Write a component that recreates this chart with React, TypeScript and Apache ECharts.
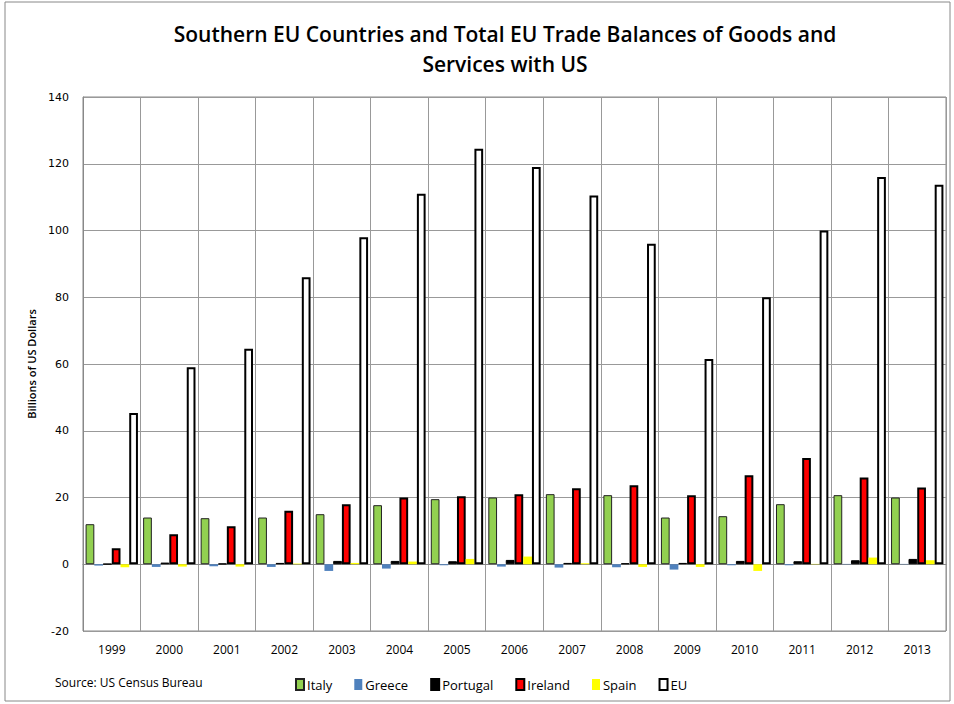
import React, { useEffect, useRef } from "react";
import * as echarts from "echarts";

const years = ["1999","2000","2001","2002","2003","2004","2005","2006","2007","2008","2009","2010","2011","2012","2013"];
const italy = [12, 14, 13.8, 14, 15, 17.7, 19.5, 20, 21, 20.7, 14, 14.4, 18, 20.7, 20];
const greece = [-0.4, -0.8, -0.6, -0.8, -2.0, -1.3, -0.3, -0.7, -1.0, -0.9, -1.6, -0.3, -0.3, 0.1, 0.1];
const portugal = [0.1, 0.5, 0.2, 0.4, 1.0, 1.0, 0.9, 1.3, 0.4, 0.3, 0.4, 1.0, 0.9, 1.2, 1.6];
const ireland = [4.8, 9, 11.4, 16, 18, 20, 20.4, 21, 22.8, 23.7, 20.7, 26.7, 31.8, 26, 23];
const spain = [-0.9, -0.7, -0.7, 0.2, 0.4, 0.8, 1.6, 2.3, 0.3, -0.8, -0.8, -2.0, 0.1, 2.0, 1.2];
const eu = [45.3, 59, 64.6, 86, 98, 111, 124.5, 119, 110.5, 96, 61.5, 80, 100, 116, 113.7];
const yTicks = { min: -20, max: 140, interval: 20 };

export default function App() {
  const ref = useRef<HTMLDivElement>(null);
  useEffect(() => {
    document.body.style.margin = "0";
    if (!ref.current) return;
    const chart = echarts.init(ref.current, null, { renderer: "svg" });
    const mk = (name: string, data: number[], color: string, borderColor: string, borderWidth: number) => ({
      name,
      type: "bar",
      data,
      barGap: "0%",
      barCategoryGap: "9%",
      itemStyle: { color, borderColor, borderWidth },
    });
    chart.setOption({
      animation: false,
      backgroundColor: "#ffffff",
      title: {
        text: "Southern EU Countries and Total EU Trade Balances of Goods and\nServices with US",
        left: 500,
        textAlign: "center",
        top: 14,
        textStyle: {
          fontFamily: "Open Sans",
          fontSize: 21,
          fontWeight: 600,
          color: "#000",
          lineHeight: 30,
        },
      },
      graphic: [
        {
          type: "rect",
          shape: { x: 5, y: 2, width: 945, height: 699 },
          style: { fill: "none", stroke: "#888", lineWidth: 1 },
          silent: true,
          z: -1,
        },
        {
          type: "text",
          left: 55,
          top: 676,
          style: { text: "Source: US Census Bureau", fontFamily: "Open Sans", fontSize: 12, fill: "#000" },
        },
      ],
      legend: {
        left: 290,
        top: 673,
        itemWidth: 8,
        itemHeight: 11,
        itemGap: 22,
        icon: "rect",
        textStyle: { fontFamily: "Open Sans", fontSize: 13, color: "#000", padding: [0, 0, 0, -2] },
        data: ["Italy", "Greece", "Portugal", "Ireland", "Spain", "EU"],
      },
      grid: { left: 83, right: 8, top: 97, bottom: 73, containLabel: false, show: true, borderColor: "#888", borderWidth: 1 },
      xAxis: {
        type: "category",
        data: years,
        axisLine: { show: true, lineStyle: { color: "#888" } },
        axisTick: { show: false },
        splitLine: { show: true, lineStyle: { color: "#999", width: 1 } },
        axisLabel: { fontFamily: "Open Sans", fontSize: 12, color: "#000", margin: 12 },
      },
      yAxis: {
        type: "value",
        min: yTicks.min,
        max: yTicks.max,
        interval: yTicks.interval,
        name: "Billions of US Dollars",
        nameLocation: "middle",
        nameGap: 45,
        nameTextStyle: { fontFamily: "Open Sans", fontSize: 11, fontWeight: 600, color: "#000" },
        axisLine: { show: true, lineStyle: { color: "#888" } },
        axisTick: { show: false },
        splitLine: { show: true, lineStyle: { color: "#999", width: 1 } },
        axisLabel: { fontFamily: "DejaVu Sans", fontSize: 11, color: "#000", margin: 14 },
      },
      series: [
        mk("Italy", italy, "#92D050", "#222", 1),
        mk("Greece", greece, "#4F81BD", "#4F81BD", 0),
        mk("Portugal", portugal, "#000000", "#000", 1),
        mk("Ireland", ireland, "#FF0000", "#000", 2),
        mk("Spain", spain, "#FFFF00", "#FFFF00", 0),
        mk("EU", eu, "#FFFFFF", "#000", 2),
      ],
    });
    return () => chart.dispose();
  }, []);
  return <div ref={ref} style={{ width: 954, height: 704 }} />;
}
